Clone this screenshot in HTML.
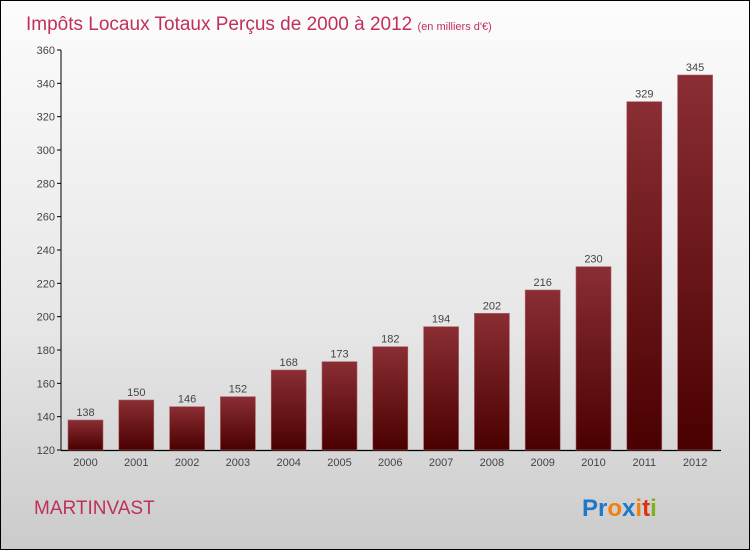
<!DOCTYPE html>
<html><head><meta charset="utf-8"><style>
body{margin:0;width:750px;height:550px;overflow:hidden;font-family:"Liberation Sans",sans-serif}
#frame{position:absolute;left:0;top:0;width:748px;height:548px;border:1px solid #000;background:linear-gradient(#fcfcfc,#e6e6e6 60%,#cbcbcb)}
</style></head><body>
<div id="frame"></div>
<svg width="750" height="550" style="position:absolute;left:0;top:0">
<defs>
<linearGradient id="bg" x1="0" y1="0" x2="0" y2="1"><stop offset="0" stop-color="#8a2e33"/><stop offset="1" stop-color="#4a0000"/></linearGradient>
</defs>
<text x="26" y="30" font-size="19" fill="#c0305a">Impôts Locaux Totaux Perçus de 2000 à 2012 <tspan font-size="11">(en milliers d'€)</tspan></text>
<text x="34" y="514" font-size="19" fill="#c0305a">MARTINVAST</text>
<text x="582" y="516" font-size="24" font-weight="bold"><tspan fill="#1e78c8">Pr</tspan><tspan fill="#f08010">o</tspan><tspan fill="#1e78c8">x</tspan><tspan fill="#f08010">i</tspan><tspan fill="#e03010">t</tspan><tspan fill="#80b020">i</tspan></text>
<g id="axes"></g><g id="bars"></g>
</svg>
<script>
const categories=["2000","2001","2002","2003","2004","2005","2006","2007","2008","2009","2010","2011","2012"];
const values=[138,150,146,152,168,173,182,194,202,216,230,329,345];
const yTicks=[120,140,160,180,200,220,240,260,280,300,320,340,360];
const NS="http://www.w3.org/2000/svg";
const y0=450,y1=50,vmin=120,vmax=360;
const y=v=>y0-(v-vmin)/(vmax-vmin)*(y0-y1);
const x=i=>68+i*50.8;
const bw=35;
function mk(t,a,p){const e=document.createElementNS(NS,t);for(const k in a)e.setAttribute(k,a[k]);p.appendChild(e);return e;}
const ax=document.getElementById('axes'),bs=document.getElementById('bars');
const yl=mk('line',{x1:61,y1:y1,x2:61,y2:y0,stroke:'#000','stroke-width':1},ax);


const xl=mk('line',{x1:61,y1:y0+0.5,x2:721,y2:y0+0.5,stroke:'#000','stroke-width':1.2},ax);


yTicks.forEach(v=>{
 mk('line',{x1:57,y1:y(v),x2:61,y2:y(v),stroke:'#000'},ax);
 const t=mk('text',{x:55,y:y(v)+4,'text-anchor':'end','font-size':11,fill:'#444'},ax);
 t.textContent=v;
 
 
});
categories.forEach((c,i)=>{
 const r=mk('rect',{x:x(i),y:y(values[i]),width:bw,height:y0-y(values[i]),fill:'url(#bg)',stroke:'#b06068','stroke-width':0.6},bs);
 
 
 const l=mk('text',{x:x(i)+bw/2,y:y(values[i])-4,'text-anchor':'middle','font-size':11,fill:'#444'},bs);
 l.textContent=values[i];
 
 
 const t=mk('text',{x:x(i)+bw/2,y:y0+16,'text-anchor':'middle','font-size':11,fill:'#444'},ax);
 t.textContent=c;
 
 
});
</script>
</body></html>
